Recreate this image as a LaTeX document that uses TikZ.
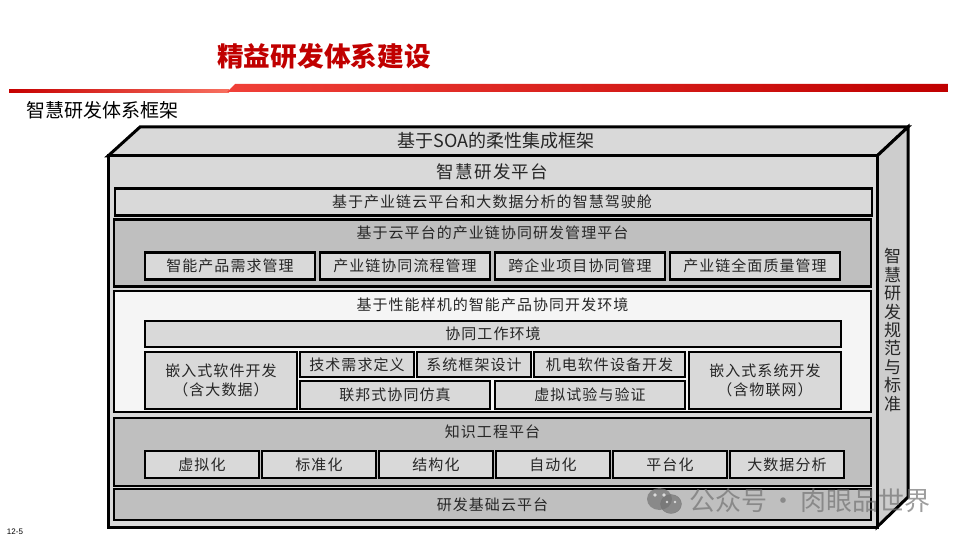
\documentclass[tikz,border=0pt]{standalone}
\usepackage{fontspec}
\setmainfont{Noto Sans CJK SC}
\newfontfamily\cjkwide[LetterSpace=7]{Noto Sans CJK SC}
\setsansfont{Liberation Sans}
\definecolor{titlered}{RGB}{192, 0, 0}
\definecolor{barred}{RGB}{240, 64, 56}
\definecolor{barpale}{RGB}{248, 112, 96}
\definecolor{facelight}{RGB}{217, 217, 217}
\definecolor{facemid}{RGB}{191, 191, 191}
\definecolor{faceside}{RGB}{205, 205, 205}
\definecolor{facepale}{RGB}{245, 245, 245}
\usetikzlibrary{positioning}
\tikzset{
  boxbase/.style={draw=black, line width=2.6pt, outer sep=0pt, inner sep=0pt, align=center, text=black!85,
    font=\cjkwide\fontsize{15}{19}\selectfont},
  lightbox/.style={boxbase, fill=facelight},
  midbox/.style={boxbase, fill=facemid},
  palebox/.style={boxbase, fill=facepale},
  rowbox/.style={lightbox, minimum width=#1, minimum height=27pt},
  boxlabel/.style={inner sep=0pt, outer sep=0pt, text=black!85, font=\cjkwide\fontsize{15}{19}\selectfont},
}
\begin{document}
\begin{tikzpicture}[x=1pt, y=-1pt, node distance=4pt]
    \useasboundingbox (0,0) rectangle (960,540);
    % header
    \node [inner sep=0pt, text=titlered, font=\bfseries\fontsize{26.7}{30}\selectfont] (title) at (324,56) {精益研发体系建设};
    \shade [left color=titlered!90!red, right color=barpale] (9,90) rectangle (229,92.5);
    \shade [left color=barred, middle color=barred, right color=titlered] (227,92) -- (235,84) -- (948,84) -- (948,92) -- cycle;
    \node [inner sep=0pt, font=\fontsize{19}{22}\selectfont] (subtitle) at (102.5,110) {智慧研发体系框架};

    % cabinet
    \draw [fill=facelight, line width=3pt, line join=miter] (108,156) -- (140,127) -- (908,127) -- (877,156) -- cycle;
    \draw [fill=faceside, line width=3pt, line join=miter] (877,156) -- (908,127) -- (908,497) -- (877,527) -- cycle;
    \node [lightbox, line width=3pt, minimum width=769pt, minimum height=371pt] (front) at (492.5,341.5) {};
    \node [boxlabel, font=\fontsize{18}{20}\selectfont] (soa) at (496,141) {基于SOA的柔性集成框架};
    \node [boxlabel, font=\cjkwide\fontsize{17.5}{20}\selectfont] (platform) at (492.5,172) {智慧研发平台};
    \node [boxlabel, align=center, font=\fontsize{17}{18.4}\selectfont] (norms) at (892.5,330) {智\\慧\\研\\发\\规\\范\\与\\标\\准};

    % cockpit
    \node [lightbox, minimum width=757pt, minimum height=27pt] (cockpit) at (493.5,202) {\hspace{-3pt}基于产业链云平台和大数据分析的智慧驾驶舱};

    % collaboration platform
    \node [midbox, minimum width=757pt, minimum height=67pt] (chain) at (492.5,253) {};
    \node [boxlabel] (chainlabel) at (492.5,232.5) {基于云平台的产业链协同研发管理平台};
    \node [rowbox=170pt] (req) at (230,266) {智能产品需求管理};
    \node [rowbox=170pt, right=5pt of req] (flow) {产业链协同流程管理};
    \node [rowbox=170pt, right=5pt of flow] (proj) {跨企业项目协同管理};
    \node [rowbox=170pt, right=5pt of proj] (quality) {产业链全面质量管理};

    % performance prototype
    \node [palebox, minimum width=757pt, minimum height=121pt] (proto) at (492.5,351.5) {};
    \node [boxlabel] (protolabel) at (492.5,305) {基于性能样机的智能产品协同开发环境};
    \node [rowbox=696pt, minimum height=26pt] (workspace) at (493,334) {协同工作环境};
    \node [lightbox, minimum width=152pt, minimum height=57pt] (software) at (221,380.5) {嵌入式软件开发\\（含大数据）};
    \node [rowbox=114pt, minimum height=25pt] (demand) at (357,364.5) {技术需求定义};
    \node [rowbox=114pt, minimum height=25pt, right=3pt of demand] (arch) {系统框架设计};
    \node [rowbox=151pt, minimum height=25pt, right=3pt of arch] (mech) {机电软件设备开发};
    \node [rowbox=190pt, minimum height=28pt] (cosim) at (395,395) {联邦式协同仿真};
    \node [rowbox=190pt, minimum height=28pt, right=5pt of cosim] (virtual) {虚拟试验与验证};
    \node [lightbox, minimum width=152pt, minimum height=57pt] (embedded) at (765,380.5) {嵌入式系统开发\\（含物联网）};

    % knowledge engineering
    \node [midbox, minimum width=757pt, minimum height=68pt] (know) at (492.5,452) {};
    \node [boxlabel] (knowlabel) at (492.5,431.5) {知识工程平台};
    \node [rowbox=114pt] (virt) at (202,464.5) {虚拟化};
    \node [rowbox=114pt, right=3pt of virt] (std) {标准化};
    \node [rowbox=114pt, right=3pt of std] (struct) {结构化};
    \node [rowbox=114pt, right=3pt of struct] (auto) {自动化};
    \node [rowbox=114pt, right=3pt of auto] (plat) {平台化};
    \node [rowbox=114pt, right=3pt of plat] (bigdata) {大数据分析};

    % cloud base
    \node [midbox, minimum width=757pt, minimum height=31pt] (cloud) at (492.5,504.5) {研发基础云平台};

    % watermark
    \begin{scope}[opacity=0.7]
      \fill [black!55] (659.5,499) ellipse [x radius=12.5, y radius=11];
      \draw [black!55, fill=black!55] (671,504) ellipse [x radius=10.5, y radius=9.5];
      \fill [white] (655,495) circle [radius=1.8] (664,495) circle [radius=1.8] (667,502) circle [radius=1.4] (675,502) circle [radius=1.4];
      \node [inner sep=0pt, text=black!55, font=\fontsize{26}{28}\selectfont] (mark) at (810,501) {公众号\hspace{4pt}·\hspace{4pt}肉眼品世界};
    \end{scope}

    \node [inner sep=0pt, font=\sffamily\fontsize{8}{10}\selectfont] (pagenum) at (15,532) {12-5};
\end{tikzpicture}
\end{document}
